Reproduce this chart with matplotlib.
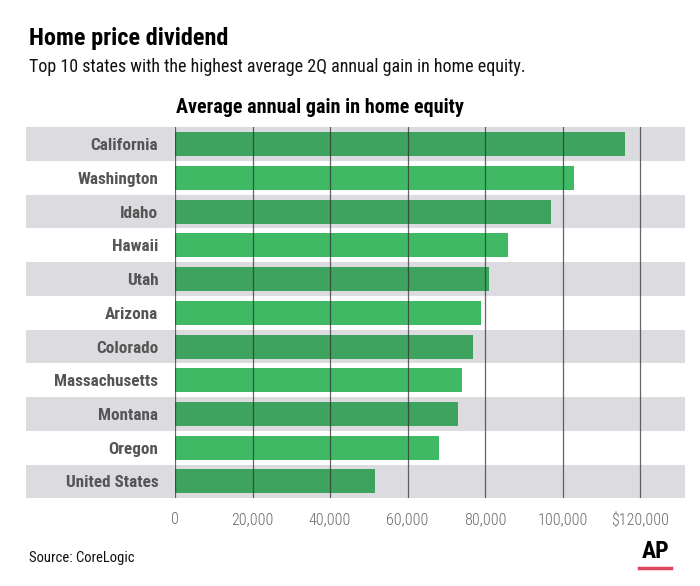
import matplotlib
matplotlib.use("Agg")
import matplotlib.pyplot as plt
from matplotlib.ticker import FuncFormatter

plt.rcParams["font.family"] = ["Roboto Condensed", "DejaVu Sans"]

states = ["California", "Washington", "Idaho", "Hawaii", "Utah", "Arizona",
          "Colorado", "Massachusetts", "Montana", "Oregon", "United States"]
gains = [116000, 103000, 97000, 86000, 81000, 79000,
         77000, 74000, 73000, 68000, 51500]
ticks = [0, 20000, 40000, 60000, 80000, 100000, 120000]

DARK = "#3da35e"
LIGHT = "#40b965"
BAND = "#dcdce0"

fig = plt.figure(figsize=(7.0, 5.86), dpi=100)
ax = fig.add_axes([175 / 700, 1 - 498.3 / 586, 510 / 700, (498.3 - 127.3) / 586])

ypos = list(range(len(states)))
colors = [DARK if i % 2 == 0 else LIGHT for i in ypos]
ax.barh(ypos, gains, height=0.71, color=colors, zorder=2)

# alternating grey row bands, reaching under the labels
for i in ypos:
    if i % 2 == 0:
        ax.axhspan(i - 0.5, i + 0.5, xmin=-(175 - 26) / 510, xmax=1,
                   color=BAND, lw=0, zorder=0, clip_on=False)

for t in ticks:
    ax.axvline(t, color="#333333", lw=0.9, alpha=0.75, zorder=3)

ax.set_xlim(0, 131600)
ax.set_ylim(len(states) - 0.5, -0.5)
ax.set_xticks(ticks)
ax.xaxis.set_major_formatter(FuncFormatter(
    lambda x, pos: f"${x:,.0f}" if x == ticks[-1] else f"{x:,.0f}"))
ax.set_yticks(ypos)
ax.set_yticklabels(states, fontweight="bold", color="#555555", fontsize=12.3)
ax.tick_params(axis="y", length=0, pad=12)
ax.tick_params(axis="x", length=0, pad=10, labelsize=11.5, labelcolor="#6a6a6a")
for lab in ax.get_xticklabels():
    lab.set_fontweight(300)
for s in ax.spines.values():
    s.set_visible(False)

fig.text(29 / 700, 1 - 45 / 586, "Home price dividend", fontsize=17.5,
         fontweight="bold", color="black", va="baseline")
fig.text(29 / 700, 1 - 71.7 / 586,
         "Top 10 states with the highest average 2Q annual gain in home equity.",
         fontsize=13, color="#111111", va="baseline")
fig.text(176 / 700, 1 - 113 / 586, "Average annual gain in home equity",
         fontsize=14.5, fontweight="bold", color="black", va="baseline")
fig.text(29 / 700, 1 - 561.7 / 586, "Source: CoreLogic", fontsize=10.5,
         color="#111111", va="baseline")
fig.text(669 / 700, 1 - 558 / 586, "AP", fontsize=17, fontweight="bold",
         color="black", va="baseline", ha="right")
fig.add_artist(plt.Line2D([639 / 700, 671 / 700], [1 - 568 / 586] * 2,
                          color="#e0455e", lw=2.5))

fig.savefig("out.png", dpi=100)
